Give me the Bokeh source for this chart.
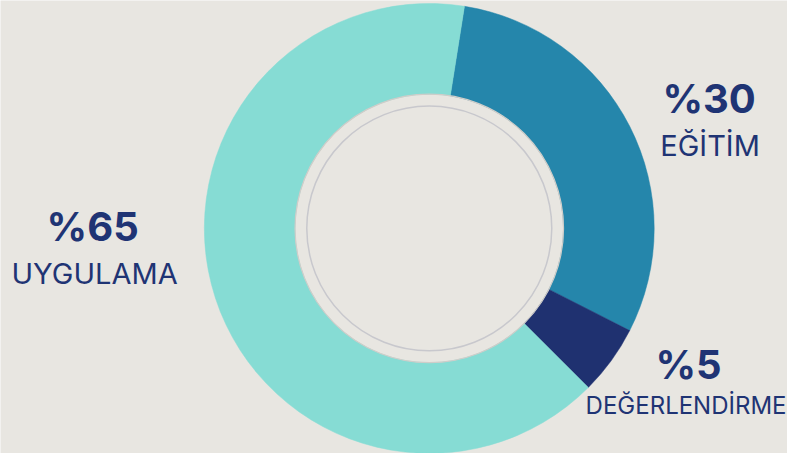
from math import radians
from bokeh.plotting import figure
from bokeh.models import Range1d, ColumnDataSource
from bokeh.core.properties import value
from bokeh.embed import file_html
from bokeh.resources import INLINE

categories = ["EĞİTİM", "DEĞERLENDİRME", "UYGULAMA"]
values = [30, 5, 65]
pct_labels = ["%30", "%5", "%65"]
colors = ["#2586ab", "#1f3170", "#86dcd4"]

BG = "#e8e6e1"
NAVY = "#1f3474"

W, H = 787, 453
p = figure(width=W, height=H, output_backend="svg", toolbar_location=None,
           x_range=Range1d(0, 803), y_range=Range1d(0, 469),
           min_border=0)
p.axis.visible = False
p.grid.visible = False
p.outline_line_color = None
p.background_fill_color = BG
p.border_fill_color = BG

cx, cy = 437.5, 233
start_deg = 81.0
total = sum(values)
starts, ends = [], []
a = start_deg
for v in values:
    starts.append(radians(a))
    a -= v / total * 360.0
    ends.append(radians(a))

src = ColumnDataSource(dict(x=[cx] * 3, y=[cy] * 3, start=starts, end=ends,
                            color=colors, cat=categories))
p.annular_wedge(x="x", y="y", inner_radius=137, outer_radius=229.5,
                start_angle="start", end_angle="end", direction="clock",
                fill_color="color", line_color="color", line_width=0.5, source=src)

# subtle rim of the hole
p.circle(x=[cx], y=[cy], radius=137, fill_color=None,
         line_color="#cfcdc9", line_width=1.2)
# inner decorative ring
p.circle(x=[cx], y=[cy], radius=125, fill_color=None,
         line_color="#c8c8cd", line_width=1.5)

# percentage labels (x, y in reference pixel coordinates, y flipped)
pct_x = [723, 702, 94]
pct_y = [469 - 101, 469 - 377, 469 - 234]
p.text(x=pct_x, y=pct_y, text=pct_labels, text_font=value("Inter"),
       text_font_style="bold", text_font_size="40px", text_color=NAVY,
       text_align="center", text_baseline="middle")

# category labels
p.text(x=[724, 96], y=[469 - 150, 469 - 283],
       text=[categories[0], categories[2]], text_font=value("Inter"),
       text_font_size="29px", text_color=NAVY,
       text_align="center", text_baseline="middle")
p.text(x=[802], y=[469 - 419], text=[categories[1]], text_font=value("Inter"),
       text_font_size="24px", text_color=NAVY,
       text_align="right", text_baseline="middle")

open("out.html", "w").write(file_html(p, INLINE))
